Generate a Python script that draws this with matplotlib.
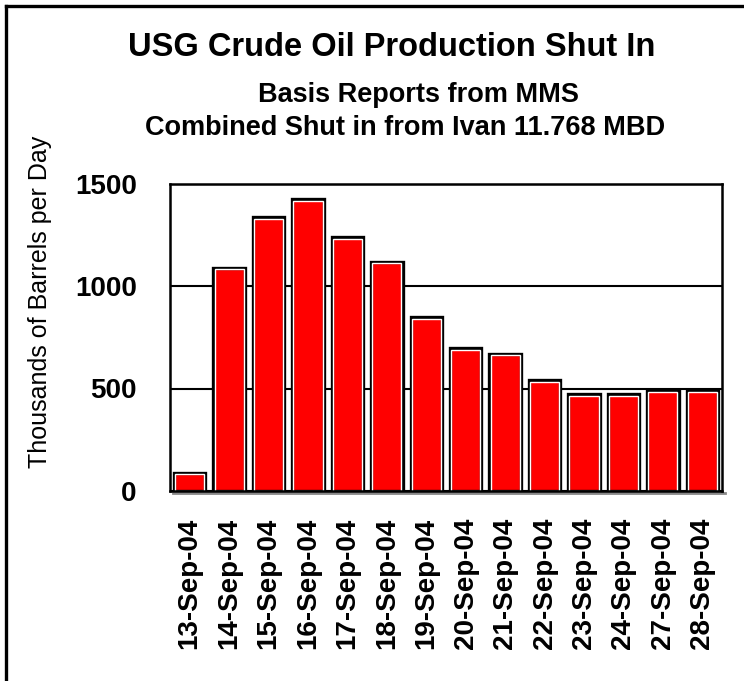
import matplotlib
matplotlib.use("Agg")
import matplotlib.pyplot as plt
import matplotlib.transforms as mtransforms
from matplotlib.lines import Line2D

plt.rcParams['font.family'] = ['Liberation Sans', 'DejaVu Sans']

# data (thousands of barrels per day)
dates = ['13-Sep-04', '14-Sep-04', '15-Sep-04', '16-Sep-04', '17-Sep-04',
         '18-Sep-04', '19-Sep-04', '20-Sep-04', '21-Sep-04', '22-Sep-04',
         '23-Sep-04', '24-Sep-04', '27-Sep-04', '28-Sep-04']
shut_in = [90, 1090, 1335, 1423, 1237, 1119, 847, 698, 670, 541,
           472, 472, 492, 492]
y_ticks = [0, 500, 1000, 1500]

W, H = 744, 681
fig = plt.figure(figsize=(W / 100, H / 100), dpi=100)
ax = fig.add_axes([170 / W, 1 - 491 / H, 552 / W, 307.5 / H])

x = list(range(len(dates)))
ax.bar(x, shut_in, width=0.8, color='#ff0000', edgecolor='black',
       linewidth=2.4, zorder=3)
# thin white highlight just inside each bar
ax.bar(x, [v - 9 for v in shut_in], width=0.74, color='none',
       edgecolor='white', linewidth=1.0, zorder=4)

ax.set_xlim(-0.5, len(dates) - 0.5)
ax.set_ylim(0, 1500)
ax.set_yticks(y_ticks)
ax.set_yticklabels([str(t) for t in y_ticks], fontsize=20, fontweight='bold')
ax.set_xticks(x)
ax.set_xticklabels(dates, rotation=90, fontsize=20, fontweight='bold')
ax.tick_params(axis='y', length=0, pad=24)
ax.tick_params(axis='x', length=0, pad=19)
ax.grid(axis='y', color='black', linewidth=1.5, zorder=1)
for s in ax.spines.values():
    s.set_linewidth(1.8)
    s.set_zorder(5)

# gray shadow under the plot area
shadow = mtransforms.offset_copy(ax.transAxes, fig=fig, x=1.5, y=-2.2, units='dots')
ax.plot([0.003, 1.003], [0, 0], color='#888888', linewidth=2.0,
        transform=shadow, clip_on=False, zorder=2)

# titles
fig.text(392 / W, 1 - 56 / H, 'USG Crude Oil Production Shut In',
         fontsize=23.5, fontweight='bold', ha='center', va='baseline')
fig.text(418 / W, 1 - 101.5 / H, 'Basis Reports from MMS',
         fontsize=19.5, fontweight='bold', ha='center', va='baseline')
fig.text(405 / W, 1 - 135 / H, 'Combined Shut in from Ivan 11.768 MBD',
         fontsize=19.5, fontweight='bold', ha='center', va='baseline')
fig.text(40 / W, 1 - 302 / H, 'Thousands of Barrels per Day',
         fontsize=18, rotation=90, ha='center', va='center')

# frame around the chart (left and top edges visible)
fig.add_artist(Line2D([6.5 / W, 6.5 / W], [0, 1 - 6 / H], color='black', linewidth=2.4))
fig.add_artist(Line2D([6.5 / W, 1], [1 - 6 / H, 1 - 6 / H], color='black', linewidth=2.4))

fig.savefig('out.png', dpi=100)
